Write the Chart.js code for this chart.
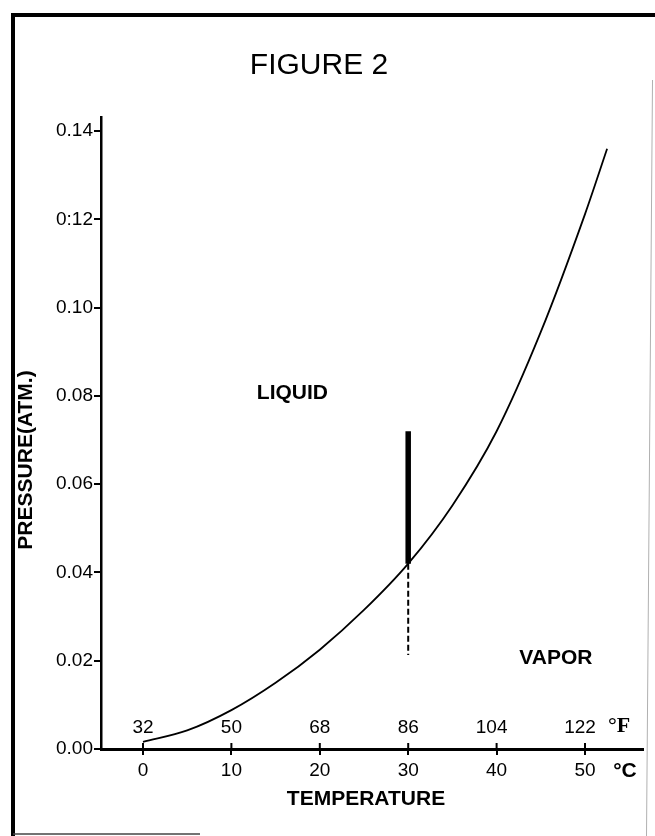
<!DOCTYPE html>
<html lang="en">
  <head>
    <meta charset="UTF-8" />
    <title>Figure 2</title>
    <style>
      html, body { margin: 0; padding: 0; background: #fff; }
      canvas { display: block; }
    </style>
  </head>
  <body>
    <canvas id="myChart" width="655" height="836"></canvas>
    <script src="https://cdn.jsdelivr.net/npm/chart.js"></script>
    <script>
        // vapor pressure curve
        const tempC = [0, 5, 10, 15, 20, 25, 30, 35, 40, 45, 50, 52.5];
        const pressure = [0.0016, 0.0042, 0.0088, 0.015, 0.0225, 0.0315, 0.042, 0.0552, 0.072, 0.0945, 0.1212, 0.136];

        // marker at 30 C
        const markX = [30, 30];
        const markSolidY = [0.072, 0.042];
        const markDashY = [0.042, 0.0213];

        const xTicks = [0, 10, 20, 30, 40, 50];
        const fahrenheitLabels = ["32", "50", "68", "86", "104", "122"];
        const yTicks = [0, 0.02, 0.04, 0.06, 0.08, 0.10, 0.12, 0.14];
        const yTickLabels = ["0.00", "0.02", "0.04", "0.06", "0.08", "0.10", "0:12", "0.14"];

        const SANS = "'Liberation Sans', Arial, Helvetica, sans-serif";

        const toPoints = (xs, ys) => xs.map((x, i) => ({x: x, y: ys[i]}));

        const figureDecor = {
            id: 'figureDecor',
            afterDraw(chart) {
                const {ctx, scales: {x, y}} = chart;
                ctx.save();
                // frame
                ctx.strokeStyle = '#000';
                ctx.lineWidth = 4;
                ctx.beginPath();
                ctx.moveTo(13, 836);
                ctx.lineTo(13, 15);
                ctx.lineTo(655, 15);
                ctx.stroke();
                ctx.strokeStyle = '#b0b0b0';
                ctx.lineWidth = 1;
                ctx.beginPath();
                ctx.moveTo(652.5, 80);
                ctx.lineTo(646.5, 836);
                ctx.stroke();
                ctx.strokeStyle = '#444';
                ctx.lineWidth = 1.5;
                ctx.beginPath();
                ctx.moveTo(13, 834);
                ctx.lineTo(200, 834);
                ctx.stroke();

                // upper half of the x tick marks
                ctx.strokeStyle = '#000';
                ctx.lineWidth = 2;
                xTicks.forEach(v => {
                    const px = x.getPixelForValue(v);
                    ctx.beginPath();
                    ctx.moveTo(px, y.bottom);
                    ctx.lineTo(px, y.bottom - 6);
                    ctx.stroke();
                });

                ctx.fillStyle = '#000';
                ctx.textAlign = 'center';
                ctx.textBaseline = 'middle';

                // fahrenheit labels above the axis
                ctx.font = "19px " + SANS;
                xTicks.forEach((v, i) => {
                    ctx.fillText(fahrenheitLabels[i], x.getPixelForValue(v) - (i >= 4 ? 5 : 0), y.bottom - 21);
                });
                ctx.font = "bold 22px 'Liberation Serif', serif";
                ctx.fillText("\u00b0F", 619, y.bottom - 23);
                ctx.font = "bold 21px " + SANS;
                ctx.fillText("\u00b0C", 625, y.bottom + 22);

                // titles
                ctx.font = "30px " + SANS;
                ctx.fillText("FIGURE 2", 319, 66);
                ctx.font = "bold 21px " + SANS;
                ctx.fillText("TEMPERATURE", 366, 799);

                ctx.save();
                ctx.translate(26, 460);
                ctx.rotate(-Math.PI / 2);
                ctx.font = "bold 21px " + SANS;
                ctx.fillText("PRESSURE(ATM.)", 0, 0);
                ctx.restore();

                // region labels
                ctx.font = "bold 21px " + SANS;
                ctx.fillText("LIQUID", x.getPixelForValue(16.9), y.getPixelForValue(0.0807));
                ctx.fillText("VAPOR", x.getPixelForValue(46.7), y.getPixelForValue(0.0206));
                ctx.restore();
            }
        };

        const data = {
            datasets: [
                {
                    label: "vapor pressure",
                    data: toPoints(tempC, pressure),
                    borderColor: "#000",
                    borderWidth: 1.8,
                    pointRadius: 0,
                    showLine: true,
                    cubicInterpolationMode: 'monotone',
                },
                {
                    label: "mark",
                    data: toPoints(markX, markSolidY),
                    borderColor: "#000",
                    borderWidth: 5.5,
                    pointRadius: 0,
                    showLine: true,
                },
                {
                    label: "mark dashed",
                    data: toPoints(markX, markDashY),
                    borderColor: "#000",
                    borderWidth: 2,
                    borderDash: [6, 3],
                    pointRadius: 0,
                    showLine: true,
                },
            ],
        };

        const config = {
            type: "scatter",
            data: data,
            plugins: [figureDecor],
            options: {
                responsive: false,
                animation: false,
                devicePixelRatio: 1,
                layout: {
                    padding: {left: 12, right: 12, top: 117, bottom: 0}
                },
                plugins: {
                    legend: { display: false },
                    tooltip: { enabled: false },
                },
                scales: {
                    x: {
                        type: 'linear',
                        min: -4.75,
                        max: 56.56,
                        afterFit(scale) { scale.height = 87; },
                        afterBuildTicks(scale) { scale.ticks = xTicks.map(v => ({value: v})); },
                        border: { display: true, color: '#000', width: 3 },
                        grid: {
                            drawOnChartArea: false,
                            drawTicks: true,
                            tickLength: 6,
                            color: '#000',
                            lineWidth: 2,
                        },
                        ticks: {
                            color: '#000',
                            padding: 4,
                            maxRotation: 0,
                            font: { family: SANS, size: 19 },
                        },
                    },
                    y: {
                        type: 'linear',
                        min: 0,
                        max: 0.1432,
                        afterFit(scale) { scale.width = 89; },
                        afterBuildTicks(scale) { scale.ticks = yTicks.map(v => ({value: v})); },
                        border: { display: true, color: '#000', width: 2.5 },
                        grid: {
                            drawOnChartArea: false,
                            drawTicks: true,
                            tickLength: 7,
                            color: '#000',
                            lineWidth: 2,
                        },
                        ticks: {
                            color: '#000',
                            padding: 1,
                            font: { family: SANS, size: 19 },
                            callback: function(value, index) {
                                return yTickLabels[index];
                            },
                        },
                    },
                },
            },
        };

        const myChart = new Chart(document.getElementById("myChart"), config);
    </script>
  </body>
</html>
